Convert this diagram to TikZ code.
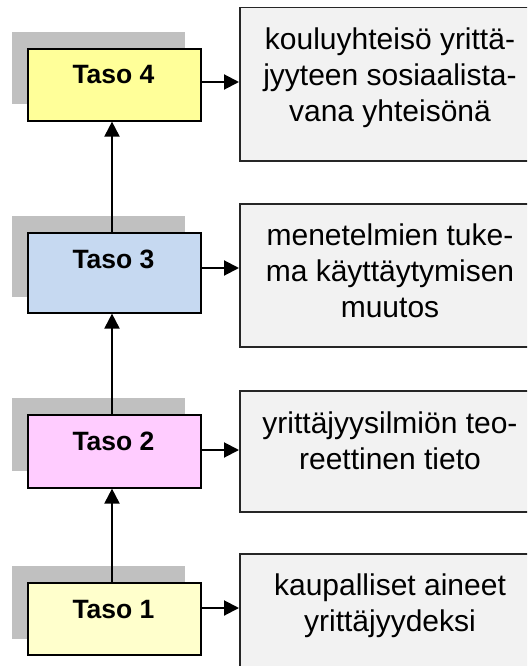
\documentclass[tikz,border=0pt]{standalone}
\usepackage{fontspec}
\setmainfont{Liberation Sans}
\usetikzlibrary{arrows.meta}
\definecolor{shadegray}{RGB}{192,192,192}
\definecolor{lvlfour}{RGB}{255,255,153}
\definecolor{lvlthree}{RGB}{198,217,241}
\definecolor{lvltwo}{RGB}{255,204,255}
\definecolor{lvlone}{RGB}{255,255,204}
\definecolor{descfill}{RGB}{242,242,242}
\begin{document}
\begin{tikzpicture}[x=1pt,y=-1pt,
  lvlbox/.style={draw=black, line width=1.6pt, rectangle, inner sep=0pt, minimum width=173pt, anchor=north west},
  lvltext/.style={font=\fontsize{26.5}{30}\selectfont\bfseries, inner sep=0pt, anchor=base},
  descbox/.style={draw=black!85, fill=descfill, line width=1.5pt, rectangle, inner sep=0pt, minimum width=302pt, anchor=north west},
  desctext/.style={font=\fontsize{30}{36}\selectfont, align=center, inner sep=0pt, anchor=north},
  arr/.style={line width=2pt, -{Triangle[length=15pt,width=15pt]}},
  shadow/.style={fill=shadegray}
]
\useasboundingbox (0,0) rectangle (527,666);
\clip (0,0) rectangle (527,666);
% shadows
\fill[shadow] (12,32) rectangle (185,104);
\fill[shadow] (12,216) rectangle (185,297);
\fill[shadow] (12,398) rectangle (185,471);
\fill[shadow] (12,566) rectangle (185,639);
% level boxes
\node[lvlbox, fill=lvlfour, minimum height=72pt] (t4) at (27,48) {};
\node[lvlbox, fill=lvlthree, minimum height=80pt] (t3) at (27,232) {};
\node[lvlbox, fill=lvltwo, minimum height=73pt] (t2) at (27,414) {};
\node[lvlbox, fill=lvlone, minimum height=72pt] (t1) at (27,582) {};
\node[lvltext] (l4) at (113.5,84) {Taso 4};
\node[lvltext] (l3) at (113.5,268) {Taso 3};
\node[lvltext] (l2) at (113.5,450) {Taso 2};
\node[lvltext] (l1) at (113.5,618) {Taso 1};
% description boxes
\node[descbox, minimum height=153pt] (r1) at (239,7) {};
\node[descbox, minimum height=143pt] (r2) at (239,203) {};
\node[descbox, minimum height=121pt] (r3) at (239,390) {};
\node[descbox, minimum height=130pt] (r4) at (239,553) {};
\node[desctext] (d1) at (390,25) {\rule{0pt}{24pt}kouluyhteisö yrittä-\\jyyteen sosiaalista-\\vana yhteisönä};
\node[desctext] (d2) at (390,221) {\rule{0pt}{24pt}menetelmien tuke-\\ma käyttäytymisen\\muutos};
\node[desctext] (d3) at (390,409) {\rule{0pt}{24pt}yrittäjyysilmiön teo-\\reettinen tieto};
\node[desctext] (d4) at (390,571) {\rule{0pt}{24pt}kaupalliset aineet\\yrittäjyydeksi};
% horizontal arrows
\draw[arr] (t4.east |- 0,82) -- (r1.west |- 0,82);
\draw[arr] (t3.east |- 0,268) -- (r2.west |- 0,268);
\draw[arr] (t2.east |- 0,450) -- (r3.west |- 0,450);
\draw[arr] (t1.east |- 0,608) -- (r4.west |- 0,608);
% vertical arrows
\draw[arr] (t1.north -| 112,0) -- (t2.south -| 112,0);
\draw[arr] (t2.north -| 112,0) -- (t3.south -| 112,0);
\draw[arr] (t3.north -| 112,0) -- (t4.south -| 112,0);
\end{tikzpicture}
\end{document}
